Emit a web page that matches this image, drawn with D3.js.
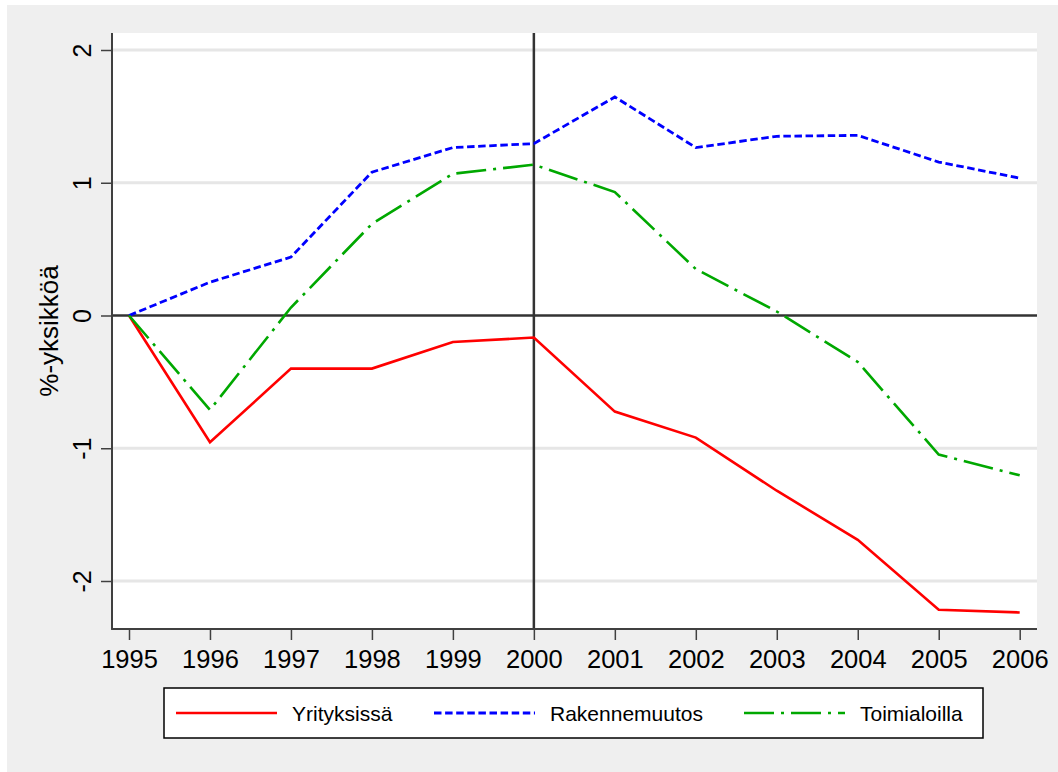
<!DOCTYPE html>
<html>
<head>
<meta charset="utf-8">
<script src="https://cdn.jsdelivr.net/npm/d3@7"></script>
<style>
  html, body { margin: 0; padding: 0; background: #ffffff; }
  svg { display: block; font-family: "Liberation Sans", Arial, sans-serif; }
</style>
</head>
<body>
<svg id="chart" width="1058" height="772"></svg>
<script>
const years = [1995, 1996, 1997, 1998, 1999, 2000, 2001, 2002, 2003, 2004, 2005, 2006];
const yrityksissa = [0, -0.955, -0.40, -0.40, -0.20, -0.166, -0.724, -0.92, -1.32, -1.69, -2.217, -2.237];
const rakennemuutos = [0, 0.251, 0.44, 1.08, 1.265, 1.295, 1.646, 1.265, 1.35, 1.357, 1.156, 1.035];
const toimialoilla = [0, -0.711, 0.06, 0.69, 1.068, 1.136, 0.93, 0.35, 0.03, -0.35, -1.048, -1.204];
const yTicks = [-2, -1, 0, 1, 2];
const yTickLabels = ["-2", "-1", "0", "1", "2"];
const xTickLabels = ["1995", "1996", "1997", "1998", "1999", "2000", "2001", "2002", "2003", "2004", "2005", "2006"];
const seriesNames = ["Yrityksissä", "Rakennemuutos", "Toimialoilla"];
const yTitle = "%-yksikköä";

const series = [
  { name: seriesNames[0], values: yrityksissa, color: "#ff0000", dash: null, width: 2.6 },
  { name: seriesNames[1], values: rakennemuutos, color: "#0000ff", dash: "7.5,3.6", width: 2.8 },
  { name: seriesNames[2], values: toimialoilla, color: "#00a800", dash: "30,7,3,7", width: 2.6 }
];

const svg = d3.select("#chart");
const W = 1058, H = 772;
const plot = { left: 112, right: 1037, top: 33, bottom: 629 };

// outer background
svg.append("rect").attr("x", 7).attr("y", 5).attr("width", W - 7).attr("height", H - 5).attr("fill", "#efefef");
// plot region
svg.append("rect").attr("x", plot.left).attr("y", plot.top)
  .attr("width", plot.right - plot.left).attr("height", plot.bottom - plot.top).attr("fill", "#ffffff");

const x = d3.scaleLinear().domain([1995, 2006]).range([129, 1019.7]);
const y = d3.scaleLinear().domain([-2, 2]).range([581, 50]);

// grid lines
svg.append("g").selectAll("line").data(yTicks.filter(d => d !== 0)).join("line")
  .attr("x1", plot.left).attr("x2", plot.right)
  .attr("y1", d => y(d)).attr("y2", d => y(d))
  .attr("stroke", "#e6e6e6").attr("stroke-width", 3);

// reference lines
svg.append("line").attr("x1", plot.left).attr("x2", plot.right)
  .attr("y1", y(0)).attr("y2", y(0)).attr("stroke", "#333333").attr("stroke-width", 2.5);
svg.append("line").attr("x1", x(2000)).attr("x2", x(2000))
  .attr("y1", plot.top).attr("y2", plot.bottom).attr("stroke", "#333333").attr("stroke-width", 2.5);

// series
const line = d3.line().x((d, i) => x(years[i])).y(d => y(d));
series.forEach(s => {
  svg.append("path").datum(s.values)
    .attr("d", line)
    .attr("fill", "none")
    .attr("stroke", s.color)
    .attr("stroke-width", s.width)
    .attr("stroke-dasharray", s.dash)
    .attr("stroke-linejoin", "miter");
});

// axes
const yAxis = svg.append("g").attr("transform", `translate(${plot.left},0)`)
  .call(d3.axisLeft(y).tickValues(yTicks).tickSize(11).tickSizeOuter(0)
    .tickFormat((d, i) => yTickLabels[i]));
yAxis.select(".domain").remove();
yAxis.selectAll(".tick line").attr("stroke", "#404040").attr("stroke-width", 1.5);
yAxis.selectAll(".tick text")
  .attr("x", null).attr("dy", null)
  .attr("transform", "translate(-21,0) rotate(-90)")
  .attr("text-anchor", "middle")
  .attr("font-size", 25).attr("fill", "#000")
  .attr("font-family", "Liberation Sans, Arial, sans-serif");

const xAxis = svg.append("g").attr("transform", `translate(0,${plot.bottom})`)
  .call(d3.axisBottom(x).tickValues(years).tickSize(11).tickSizeOuter(0)
    .tickFormat((d, i) => xTickLabels[i]));
xAxis.select(".domain").remove();
xAxis.selectAll(".tick line").attr("stroke", "#404040").attr("stroke-width", 1.5);
xAxis.selectAll(".tick text")
  .attr("y", 39).attr("dy", null)
  .attr("font-size", 25.5).attr("fill", "#000")
  .attr("font-family", "Liberation Sans, Arial, sans-serif");

// axis lines
svg.append("line").attr("x1", plot.left).attr("x2", plot.left)
  .attr("y1", plot.top).attr("y2", plot.bottom + 0.75)
  .attr("stroke", "#404040").attr("stroke-width", 2);
svg.append("line").attr("x1", plot.left - 0.75).attr("x2", plot.right)
  .attr("y1", plot.bottom).attr("y2", plot.bottom)
  .attr("stroke", "#404040").attr("stroke-width", 2);

// y title
svg.append("text")
  .attr("transform", `translate(58,${(plot.top + plot.bottom) / 2}) rotate(-90)`)
  .attr("text-anchor", "middle")
  .attr("font-size", 26).attr("fill", "#000")
  .text(yTitle);

// legend
const lg = svg.append("g");
lg.append("rect").attr("x", 164).attr("y", 688).attr("width", 819).attr("height", 50)
  .attr("fill", "#ffffff").attr("stroke", "#000").attr("stroke-width", 1.5);
const legendX = [176, 434, 744];
series.forEach((s, i) => {
  lg.append("line").attr("x1", legendX[i]).attr("x2", legendX[i] + 101)
    .attr("y1", 713).attr("y2", 713)
    .attr("stroke", s.color).attr("stroke-width", s.width)
    .attr("stroke-dasharray", s.dash);
  lg.append("text").attr("x", legendX[i] + 116).attr("y", 721)
    .attr("font-size", 21).attr("fill", "#000").text(s.name);
});
</script>
</body>
</html>
